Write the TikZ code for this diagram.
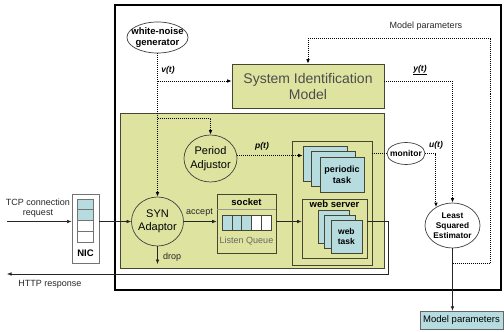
\documentclass[tikz,border=0pt]{standalone}
\usepackage{fontspec}
\setmainfont{Liberation Sans}
\usetikzlibrary{arrows.meta,shapes.geometric,calc}
\definecolor{gfill}{RGB}{222,228,160}
\definecolor{bfill}{RGB}{182,220,224}
\definecolor{olive}{RGB}{70,70,50}
\begin{document}
\begin{tikzpicture}[x=1pt,y=-1pt,
 >={Latex[length=4.5pt,width=3.6pt]},
 dotln/.style={line width=1pt, dash pattern=on 1pt off 1pt, draw=black},
 sln/.style={line width=0.6pt, draw=black!85},
 ell/.style={ellipse, draw=black!75, line width=0.7pt, inner sep=0pt},
 gbox/.style={rectangle, draw=olive, line width=0.6pt, fill=gfill, inner sep=0pt},
 wbox/.style={rectangle, draw=olive, line width=0.6pt, inner sep=0pt},
 card/.style={rectangle, draw=olive, line width=0.6pt, fill=bfill, inner sep=0pt},
 cell/.style={rectangle, draw=black!55, line width=0.6pt, inner sep=0pt},
 lab/.style={font=\bfseries\itshape\fontsize{8.5}{10}\selectfont, inner sep=0pt},
 txt/.style={font=\fontsize{9}{10.5}\selectfont, inner sep=0pt, align=center, text=black!85},
 btxt/.style={font=\bfseries\fontsize{8.5}{10}\selectfont, inner sep=0pt, align=center},
 big/.style={font=\fontsize{11}{13.5}\selectfont, align=center, inner sep=0pt},
]
\useasboundingbox (0,0) rectangle (504,332);
\node[rectangle, draw=black, line width=1.3pt, minimum width=386pt, minimum height=285pt, inner sep=0pt] (outer) at (308,147.5) {};
\node[gbox, minimum width=264pt, minimum height=155pt] (green) at (252,190.5) {};
\node[gbox, minimum width=152pt, minimum height=44pt, font=\fontsize{14}{16}\selectfont, align=center, text=black!70] (sysid) at (308,86) {System Identification\\Model};

\node[ell, fill=white, minimum width=61pt, minimum height=31pt] (wng) at (157.5,37.5) {};
\node[btxt, font=\bfseries\fontsize{9.5}{11}\selectfont] (wngt) at (wng) {white-noise\\generator};

\node[ell, minimum width=53pt, minimum height=47pt] (pa) at (210.5,158.5) {};
\node[big] (pat) at (pa) {Period\\Adjustor};
\node[ell, minimum width=52pt, minimum height=49pt] (syn) at (157.5,221.5) {};
\node[big] (synt) at (syn) {SYN\\Adaptor};

% task frame
\node[wbox, minimum width=80pt, minimum height=124pt] (frame) at (332,203) {};
\node[card, minimum width=44pt, minimum height=35pt] (pt1) at (325,163.5) {};
\node[card, minimum width=44pt, minimum height=35pt] (pt2) at (333.5,169) {};
\node[card, minimum width=44pt, minimum height=35pt, align=center, font=\bfseries\fontsize{9}{11}\selectfont] (pt3) at (342,174.5) {periodic\\task};

\node[wbox, minimum width=65pt, minimum height=59pt] (ws) at (334.5,228.5) {};
\node[btxt, anchor=north, font=\bfseries\fontsize{9.5}{10}\selectfont] (wst) at ([yshift=-1.5pt]ws.north) {web server};
\node[card, minimum width=31pt, minimum height=33pt] (wt1) at (334,226.5) {};
\node[card, minimum width=31pt, minimum height=33pt] (wt2) at (340.2,231.5) {};
\node[card, minimum width=31pt, minimum height=33pt, align=center, font=\bfseries\fontsize{8.5}{10}\selectfont] (wt3) at (346.4,236.5) {web\\task};

% socket
\node[gbox, minimum width=59pt, minimum height=59pt] (sock) at (246.5,223.5) {};
\node[btxt, font=\bfseries\fontsize{9.5}{10}\selectfont] (sockt) at (246.5,202) {socket};
\draw[line width=1.2pt, draw=olive!55] ([yshift=-15.5pt]sock.north west) -- ([yshift=-15.5pt]sock.north east);
\foreach \i/\c in {1/bfill,2/bfill,3/bfill,4/white,5/white}
  \node[cell, draw=olive, fill=\c, minimum width=9.8pt, minimum height=15pt] (q\i) at ({217.1+9.8*\i},222.5) {};
\node[txt, text=black!60] (lq) at (246.5,241) {Listen Queue};

% NIC
\node[rectangle, draw=black!55, fill=white, line width=0.8pt, minimum width=27pt, minimum height=69pt, inner sep=0pt] (nic) at (85.5,228.5) {};
\foreach \i/\c in {1/bfill,2/bfill,3/white,4/white}
  \node[cell, fill=\c, minimum width=16pt, minimum height=10.75pt] (n\i) at (85,{193.6+10.75*\i}) {};
\node[btxt, font=\bfseries\fontsize{9.5}{10}\selectfont] (nict) at (85.5,253) {NIC};

% monitor, estimator, parameters
\node[ell, fill=white, minimum width=38pt, minimum height=22pt] (mon) at (406,153.5) {};
\node[btxt] (mont) at (mon) {monitor};
\node[ell, fill=white, minimum width=55pt, minimum height=45pt] (lse) at (452.5,225.5) {};
\node[btxt, font=\bfseries\fontsize{8.3}{10}\selectfont] (lset) at (lse) {Least\\Squared\\Estimator};
\node[rectangle, draw=black!60, fill=bfill, minimum width=83pt, minimum height=18pt, inner sep=0pt, font=\fontsize{9.5}{10}\selectfont] (mp) at (461.5,320) {Model parameters};

% coordinates
\coordinate (vbr) at (157.5,81);
\coordinate (pbr) at (157.5,118);
\coordinate (tcpin) at (7,221.5);
\coordinate (dropend) at (157.5,264);
\coordinate (retc) at (388,274);
\coordinate (httpend) at (7,274);
\coordinate (fb1) at (490,263);
\coordinate (fb2) at (490,38);

% dotted connectors
\draw[dotln,->] (wng.south) -- (syn.north);
\draw[dotln,->] (vbr) -- (vbr -| sysid.west);
\draw[dotln,->] (pbr) -| (pa.north);
\draw[dotln,->] ([yshift=3pt]pa.east) -- ([yshift=3pt]pa.east -| pt1.west);
\draw[dotln] (frame.east |- mon.west) -- (mon.west);
\draw[dotln,->] ([yshift=5pt]sysid.east) -| (lse.north);
\draw[dotln,->] (mon.east) -| (lse.132);
\draw[dotln,->] (lse.south |- fb1) -- (fb1) -- (fb2) -| (sysid.north);

% solid connectors
\draw[sln,->] (lse.south) -- (lse.south |- mp.north);
\draw[sln,->] (tcpin) -- (tcpin -| nic.west);
\draw[sln,->] (nic.east |- syn.west) -- (syn.west);
\draw[sln,->] (syn.east) -- (syn.east -| sock.west);
\draw[sln,->] (sock.east |- syn.east) -- (syn.east -| ws.west);
\draw[sln,->] (syn.south) -- (dropend);
\draw[sln,->] (ws.east |- syn.east) -| (retc) -- (httpend);

% labels
\node[lab] (vt) at (168,70) {v(t)};
\node[lab] (ptl) at (262,146) {p(t)};
\node[lab] (yt) at (420,70) {\underline{y(t)}};
\node[lab] (ut) at (436,145) {u(t)};
\node[txt] (acc) at (199.5,213) {accept};
\node[txt, anchor=west] (drop) at (163,257) {drop};
\node[txt] (tcp) at (38,208) {TCP connection\\request};
\node[txt] (http) at (50,284.5) {HTTP response};
\node[txt] (mpt) at (426,26) {Model parameters};
\end{tikzpicture}
\end{document}
